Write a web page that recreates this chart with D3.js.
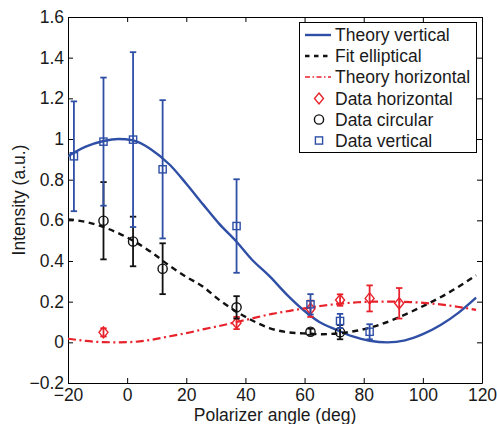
<!DOCTYPE html>
<html>
<head>
<meta charset="utf-8">
<script src="https://cdn.jsdelivr.net/npm/d3@7"></script>
<style>
  html, body { margin: 0; padding: 0; background: #fff; }
  svg text { font-family: "Liberation Sans", Arial, Helvetica, sans-serif; }
</style>
</head>
<body>
<svg id="chart" width="497" height="424"></svg>
<script>
// ---- data ----
const xTicks = [-20, 0, 20, 40, 60, 80, 100, 120];
const xTickLabels = ["\u221220", "0", "20", "40", "60", "80", "100", "120"];
const yTicks = [-0.2, 0, 0.2, 0.4, 0.6, 0.8, 1, 1.2, 1.4, 1.6];
const yTickLabels = ["\u22120.2", "0", "0.2", "0.4", "0.6", "0.8", "1", "1.2", "1.4", "1.6"];

// Theory vertical (solid blue) sampled along the drawn curve
const theoryVertX = [-20, -14, -8, -3, 2, 8, 14.5, 20, 25.8, 31, 37, 42, 48.3, 54, 59.6, 65, 70.9, 76, 82, 88, 94, 100, 106, 112, 118];
const theoryVertY = [0.915, 0.962, 0.99, 1.0, 0.993, 0.95, 0.872, 0.78, 0.676, 0.585, 0.495, 0.41, 0.323, 0.235, 0.159, 0.10, 0.061, 0.03, 0.008, 0.0, 0.01, 0.04, 0.085, 0.145, 0.22];

// Fit elliptical (black dashed)
const fitEllX = [-20, -14, -8, -2, 2, 8, 14.5, 20, 25.8, 31, 37, 42, 48.3, 54, 59.6, 66, 72, 78, 84, 90, 96, 102, 108, 113, 118];
const fitEllY = [0.605, 0.592, 0.567, 0.53, 0.5, 0.445, 0.375, 0.322, 0.272, 0.21, 0.151, 0.11, 0.069, 0.05, 0.044, 0.04, 0.045, 0.058, 0.08, 0.112, 0.15, 0.192, 0.238, 0.282, 0.33];

// Theory horizontal (red dash-dot)
const theoryHorX = [-20, -14, -8, -3, 2, 8, 14.5, 20, 26, 31, 37, 43, 49, 55, 60, 66, 72, 78, 84, 90, 96, 102, 108, 113, 118];
const theoryHorY = [0.018, 0.007, 0.001, 0.0, 0.002, 0.012, 0.03, 0.045, 0.065, 0.08, 0.1, 0.12, 0.14, 0.155, 0.167, 0.18, 0.19, 0.197, 0.2, 0.2, 0.198, 0.192, 0.183, 0.172, 0.16];

// Data horizontal (red diamonds)
const dataHorX = [-8, 37, 62, 72, 82, 92];
const dataHorY = [0.049, 0.095, 0.165, 0.208, 0.216, 0.192];
const dataHorErr = [0.02, 0.03, 0.04, 0.028, 0.064, 0.075];

// Data circular (black circles)
const dataCircX = [-8, 2, 12, 37, 62, 72];
const dataCircY = [0.598, 0.496, 0.362, 0.172, 0.052, 0.05];
const dataCircErr = [0.19, 0.122, 0.125, 0.055, 0.015, 0.035];

// Data vertical (blue squares)
const dataVertX = [-18, -8, 2, 12, 37, 62, 72, 82];
const dataVertY = [0.915, 0.987, 0.997, 0.851, 0.572, 0.187, 0.105, 0.052];
const dataVertErr = [0.27, 0.315, 0.43, 0.34, 0.23, 0.05, 0.035, 0.037];

const legendLabels = ["Theory vertical", "Fit elliptical", "Theory horizontal", "Data horizontal", "Data circular", "Data vertical"];

// ---- drawing ----
const BLUE = "#2f4fa6";
const RED = "#e8222b";
const BLACK = "#111111";
const TXT = "#1a1a1a";

const svg = d3.select("#chart");
svg.append("rect").attr("width", 497).attr("height", 424).attr("fill", "#fff");

const L = 68, R = 482, T = 17, B = 383;
const x = d3.scaleLinear().domain([-20, 120]).range([L, R]);
const y = d3.scaleLinear().domain([-0.2, 1.6]).range([B, T]);

const FS = 17.5;

// axes
const gx = svg.append("g").attr("transform", `translate(0,${B})`)
  .call(d3.axisBottom(x).tickValues(xTicks).tickFormat((d, i) => xTickLabels[i])
    .tickSizeInner(-5).tickSizeOuter(0).tickPadding(5.6));
const gy = svg.append("g").attr("transform", `translate(${L},0)`)
  .call(d3.axisLeft(y).tickValues(yTicks).tickFormat((d, i) => yTickLabels[i])
    .tickSizeInner(-5).tickSizeOuter(0).tickPadding(4));
const gt = svg.append("g").attr("transform", `translate(0,${T})`)
  .call(d3.axisTop(x).tickValues(xTicks).tickFormat("").tickSizeInner(-5).tickSizeOuter(0));
const gr = svg.append("g").attr("transform", `translate(${R},0)`)
  .call(d3.axisRight(y).tickValues(yTicks).tickFormat("").tickSizeInner(-5).tickSizeOuter(0));

[gx, gy, gt, gr].forEach(g => {
  g.selectAll("path.domain").attr("stroke", "#000").attr("stroke-width", 1);
  g.selectAll(".tick line").attr("stroke", "#000").attr("stroke-width", 1);
  g.selectAll("text").attr("font-size", FS).attr("fill", TXT)
    .attr("font-family", "'Liberation Sans', Arial, Helvetica, sans-serif");
});

// clip for curves
svg.append("clipPath").attr("id", "clip").append("rect")
  .attr("x", L).attr("y", T).attr("width", R - L).attr("height", B - T);

const plot = svg.append("g").attr("clip-path", "url(#clip)");

function curve(xs, ys) {
  return d3.line().x((d, i) => x(xs[i])).y((d, i) => y(ys[i])).curve(d3.curveMonotoneX)(xs);
}

// error bars + markers helper
function errorBars(g, xs, ys, es, color) {
  const cap = 3.2;
  xs.forEach((xv, i) => {
    const px = x(xv), top = y(ys[i] + es[i]), bot = y(ys[i] - es[i]);
    g.append("line").attr("x1", px).attr("x2", px).attr("y1", top).attr("y2", bot)
      .attr("stroke", color).attr("stroke-width", 1.8);
    g.append("line").attr("x1", px - cap).attr("x2", px + cap).attr("y1", top).attr("y2", top)
      .attr("stroke", color).attr("stroke-width", 1.8);
    g.append("line").attr("x1", px - cap).attr("x2", px + cap).attr("y1", bot).attr("y2", bot)
      .attr("stroke", color).attr("stroke-width", 1.8);
  });
}
function diamond(g, px, py, color) {
  g.append("path").attr("d", `M${px},${py - 5.5}L${px + 4.5},${py}L${px},${py + 5.5}L${px - 4.5},${py}Z`)
    .attr("fill", "none").attr("stroke", color).attr("stroke-width", 1.4);
}
function circle(g, px, py, color) {
  g.append("circle").attr("cx", px).attr("cy", py).attr("r", 4.6)
    .attr("fill", "none").attr("stroke", color).attr("stroke-width", 1.4);
}
function square(g, px, py, color) {
  g.append("rect").attr("x", px - 3.6).attr("y", py - 3.6).attr("width", 7.2).attr("height", 7.2)
    .attr("fill", "none").attr("stroke", color).attr("stroke-width", 1.4);
}

// lines
plot.append("path").attr("d", curve(theoryVertX, theoryVertY))
  .attr("fill", "none").attr("stroke", BLUE).attr("stroke-width", 2.4);
plot.append("path").attr("d", curve(fitEllX, fitEllY))
  .attr("fill", "none").attr("stroke", BLACK).attr("stroke-width", 2.4).attr("stroke-dasharray", "6,4.5");
plot.append("path").attr("d", curve(theoryHorX, theoryHorY))
  .attr("fill", "none").attr("stroke", RED).attr("stroke-width", 2.2).attr("stroke-dasharray", "8,3.5,2,3.5");

// data
const gh = svg.append("g");
errorBars(gh, dataHorX, dataHorY, dataHorErr, RED);
dataHorX.forEach((xv, i) => diamond(gh, x(xv), y(dataHorY[i]), RED));

const gc = svg.append("g");
errorBars(gc, dataCircX, dataCircY, dataCircErr, BLACK);
dataCircX.forEach((xv, i) => circle(gc, x(xv), y(dataCircY[i]), BLACK));

const gv = svg.append("g");
errorBars(gv, dataVertX, dataVertY, dataVertErr, BLUE);
dataVertX.forEach((xv, i) => square(gv, x(xv), y(dataVertY[i]), BLUE));

// axis labels
svg.append("text").attr("x", (L + R) / 2).attr("y", 420.5).attr("text-anchor", "middle")
  .attr("font-size", FS).attr("fill", TXT).text("Polarizer angle (deg)");
svg.append("text").attr("transform", `translate(25,${(T + B) / 2}) rotate(-90)`)
  .attr("text-anchor", "middle").attr("font-size", FS).attr("fill", TXT).text("Intensity (a.u.)");

// legend
const lg = svg.append("g");
lg.append("rect").attr("x", 299.5).attr("y", 22.5).attr("width", 177).attr("height", 130)
  .attr("fill", "#fff").attr("stroke", "#000").attr("stroke-width", 1);
const rowY = [35, 56, 77, 98.5, 119.5, 140.5];
const lx1 = 305, lx2 = 331, mx = 319, tx = 335;
lg.append("line").attr("x1", lx1).attr("x2", lx2).attr("y1", rowY[0]).attr("y2", rowY[0])
  .attr("stroke", BLUE).attr("stroke-width", 2.4);
lg.append("line").attr("x1", lx1).attr("x2", lx2).attr("y1", rowY[1]).attr("y2", rowY[1])
  .attr("stroke", BLACK).attr("stroke-width", 2.4).attr("stroke-dasharray", "4.5,4.5");
lg.append("line").attr("x1", lx1).attr("x2", lx2).attr("y1", rowY[2]).attr("y2", rowY[2])
  .attr("stroke", RED).attr("stroke-width", 1.6).attr("stroke-dasharray", "5,2.5,1.5,2.5");
diamond(lg, mx, rowY[3], RED);
circle(lg, mx, rowY[4], BLACK);
square(lg, mx, rowY[5], BLUE);
legendLabels.forEach((t, i) => {
  lg.append("text").attr("x", tx).attr("y", rowY[i]).attr("dy", "0.35em")
    .attr("font-size", FS).attr("fill", TXT).text(t);
});
</script>
</body>
</html>
